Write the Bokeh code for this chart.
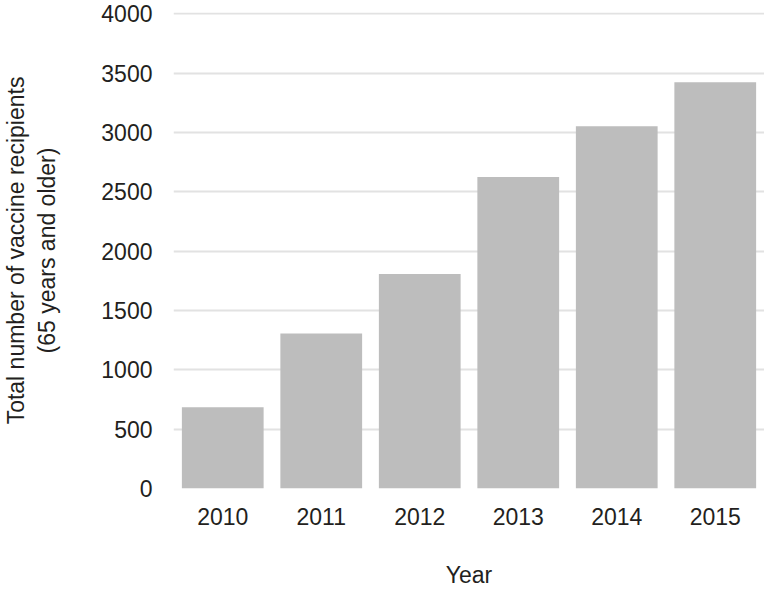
from bokeh.plotting import figure
from bokeh.models import ColumnDataSource, FactorRange, Range1d, FixedTicker
from bokeh.embed import file_html
from bokeh.resources import INLINE

years = ["2010", "2011", "2012", "2013", "2014", "2015"]
recipients = [685, 1307, 1807, 2626, 3053, 3425]
y_ticks = [0, 500, 1000, 1500, 2000, 2500, 3000, 3500, 4000]

FONT = "Liberation Sans"
TEXT = "#231f20"

src = ColumnDataSource(data=dict(year=years, value=recipients))

p = figure(
    x_range=FactorRange(*years),
    y_range=Range1d(0, 4012),
    width=764, height=590,
    output_backend="svg", toolbar_location=None,
    min_border_left=164, min_border_right=0,
    min_border_top=12, min_border_bottom=101,
)
p.vbar(x="year", top="value", width=0.83, source=src,
       fill_color="#bdbdbd", line_color=None)

p.outline_line_color = None
p.background_fill_color = "white"
p.border_fill_color = "white"

p.xgrid.grid_line_color = None
p.ygrid.grid_line_color = "#e2e2e2"
p.ygrid.grid_line_width = 2
p.ygrid.ticker = FixedTicker(ticks=y_ticks)
p.yaxis.ticker = FixedTicker(ticks=y_ticks)

for ax in (p.xaxis[0], p.yaxis[0]):
    ax.axis_line_color = None
    ax.major_tick_line_color = None
    ax.minor_tick_line_color = None
    ax.major_tick_out = 0
    ax.major_tick_in = 0
    ax.major_label_text_font = FONT
    ax.major_label_text_font_size = "23px"
    ax.major_label_text_color = TEXT
    ax.axis_label_text_font = FONT
    ax.axis_label_text_font_size = "23px"
    ax.axis_label_text_color = TEXT
    ax.axis_label_text_font_style = "normal"

p.xaxis.axis_label = "Year"
p.xaxis.major_label_standoff = 19
p.xaxis.axis_label_standoff = 34

p.yaxis.axis_label = "Total number of vaccine recipients\n(65 years and older)"
p.yaxis.major_label_standoff = 21
p.yaxis.axis_label_standoff = 38

open("out.html", "w").write(file_html(p, INLINE))
